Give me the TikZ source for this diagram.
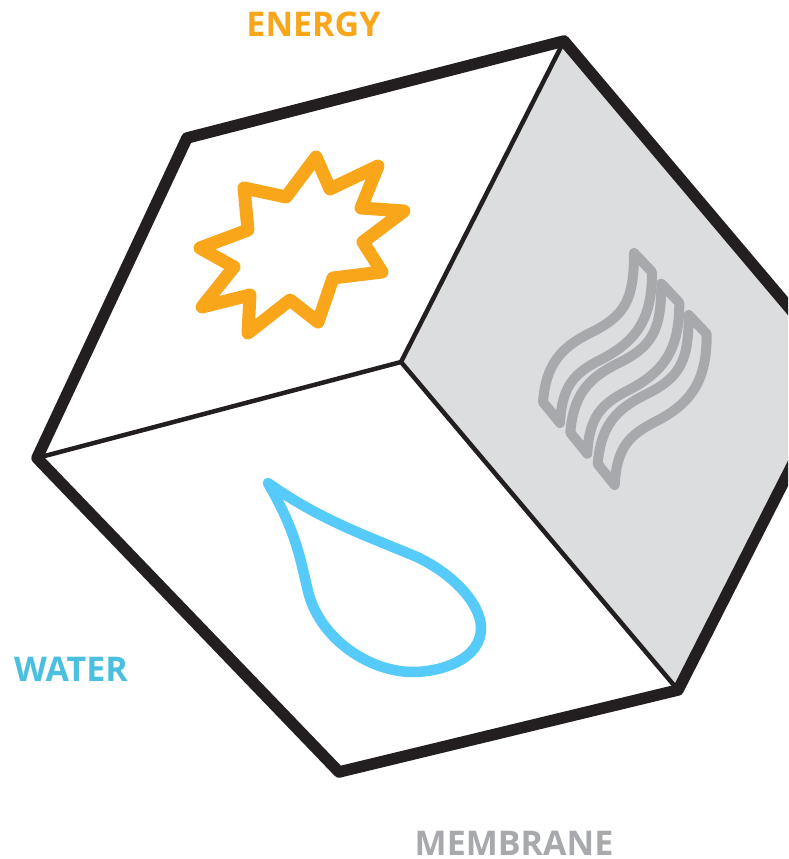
\documentclass[tikz,border=0pt]{standalone}
\usepackage{fontspec}
\setmainfont{Open Sans}
\usepackage{xcolor}
\usepackage{tikz}
\definecolor{energyc}{HTML}{FAA61A}
\definecolor{waterc}{HTML}{56CBF9}
\definecolor{waterl}{HTML}{4BBFE0}
\definecolor{membc}{HTML}{A7A9AC}
\definecolor{facec}{HTML}{DCDDDF}
\definecolor{edgec}{HTML}{231F20}
\tikzset{
  outer/.style={draw=edgec, line width=11.5pt, line join=round, line cap=round},
  inner/.style={draw=edgec, line width=4.5pt},
  sunline/.style={draw=energyc, line width=13pt, line join=round},
  dropline/.style={draw=waterc, line width=10.5pt, line join=round},
  waveline/.style={draw=membc, line width=10pt, line join=round},
  lbl/.style={font=\fontsize{34}{34}\selectfont\bfseries, inner sep=0pt, anchor=base}
}
\begin{document}
\begin{tikzpicture}[x=1pt,y=-1pt]
  \useasboundingbox (0,0) rectangle (788,859);
  \clip (0,0) rectangle (788,859);
  % Corners of the cube
  \coordinate (ca) at (187,138);
  \coordinate (cb) at (564,41);
  \coordinate (cc) at (841,369);
  \coordinate (cd) at (678,690);
  \coordinate (ce) at (339,772);
  \coordinate (cf) at (37,458);
  \coordinate (mid) at (401,362);
  % Membrane face
  \fill[facec] (mid) -- (cb) -- (cc) -- (cd) -- cycle;
  \draw[inner] (mid) -- (cb);
  \draw[inner] (mid) -- (cd);
  \draw[inner] (mid) -- (cf);
  \draw[outer] (ca) -- (cb) -- (cc) -- (cd) -- (ce) -- (cf) -- cycle;
  % Sun
  \draw[sunline] (316,157) -- (330,189) -- (378,166) -- (361,208) -- (404,211) -- (363,242)
    -- (382,272) -- (333,278) -- (318,322) -- (290,300) -- (248,333) -- (250,295)
    -- (202,307) -- (234,267) -- (200,248) -- (248,230) -- (244,188) -- (286,197) -- cycle;
  % Drop
  \draw[dropline] (268,483) .. controls (320,520) and (365,535) .. (417,557)
    .. controls (455,575) and (481,605) .. (481,628)
    .. controls (481,660) and (440,672) .. (413,672)
    .. controls (370,672) and (322,640) .. (309,595)
    .. controls (300,560) and (298,535) .. (268,483) -- cycle;
  % Membrane sheets
  \foreach \dx/\dy in {0/0, 27.3/30.7, 54.7/62}{
    \draw[waveline, shift={(\dx,\dy)}] (634,253) -- (652,272)
      .. controls (652,315) and (640,340) .. (600,360)
      .. controls (575,373) and (562,385) .. (560,423)
      -- (543,402)
      .. controls (546,365) and (560,348) .. (590,333)
      .. controls (625,316) and (634,300) .. (634,253) -- cycle;
  }
  % Labels
  \node[lbl, text=energyc] (energy) at (313.5,37) {ENERGY};
  \node[lbl, text=waterl] (water) at (71,681) {WATER};
  \node[lbl, text=membc] (membrane) at (514,855) {MEMBRANE};
\end{tikzpicture}
\end{document}
